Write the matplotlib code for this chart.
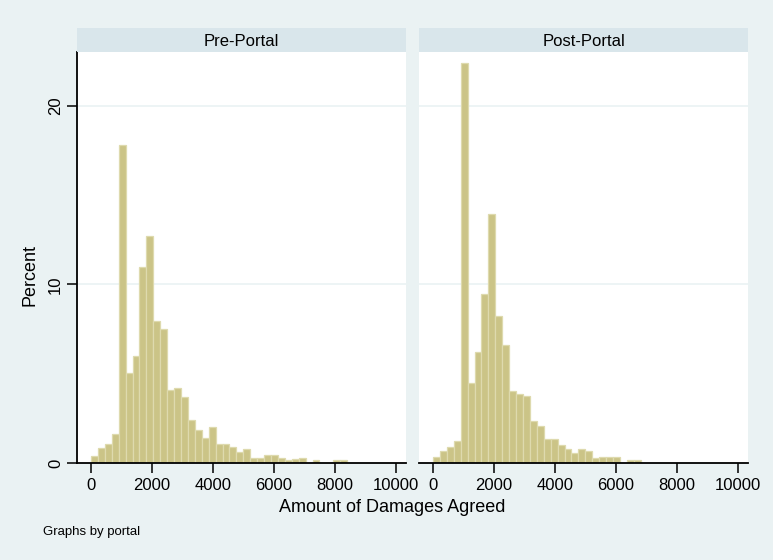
import numpy as np
import matplotlib
matplotlib.use("Agg")
import matplotlib.pyplot as plt

plt.rcParams['font.family'] = ['Liberation Sans', 'DejaVu Sans']

# histogram bins shared by both panels (37 bins over 0..8400)
bin_start = 0
bin_width = 8400 / 37

# percent per bin, pre-portal
pre_portal = [0.38, 0.86, 1.09, 1.63, 17.77, 5.03, 5.98, 10.96, 12.70, 7.94,
              7.49, 4.07, 4.17, 3.68, 2.42, 1.86, 1.41, 2.03, 1.07, 1.07,
              0.92, 0.60, 0.77, 0.28, 0.28, 0.45, 0.45, 0.28, 0.15, 0.23,
              0.28, 0.0, 0.15, 0.0, 0.0, 0.15, 0.15]

# percent per bin, post-portal
post_portal = [0.33, 0.65, 0.91, 1.21, 22.4, 4.50, 6.21, 9.48, 13.94, 8.25,
               6.58, 4.01, 3.85, 3.75, 2.36, 2.06, 1.36, 1.36, 1.02, 0.80,
               0.54, 0.80, 0.65, 0.26, 0.33, 0.33, 0.33, 0.0, 0.19, 0.19]

panels = ["Pre-Portal", "Post-Portal"]
xticks = [0, 2000, 4000, 6000, 8000, 10000]
yticks = [0, 10, 20]

bg = '#EAF2F3'
strip = '#D9E6EB'
bar_face = '#CBC487'
bar_edge = '#DEDAAE'

fig = plt.figure(figsize=(7.73, 5.6), dpi=100, facecolor=bg)

lefts = [77 / 773, 419 / 773]
w = 329 / 773
bottom = 97 / 560
h = 411 / 560

for i, (name, vals) in enumerate(zip(panels, [pre_portal, post_portal])):
    ax = fig.add_axes([lefts[i], bottom, w, h])
    ax.set_facecolor('white')
    edges = bin_start + bin_width * np.arange(len(vals))
    ax.bar(edges, vals, width=bin_width, align='edge', color=bar_face,
           edgecolor=bar_edge, linewidth=0.9, zorder=2)
    ax.set_xlim(-460, 10330)
    ax.set_ylim(0, 23.0)
    for y in [10, 20]:
        ax.axhline(y, color=bg, lw=1.2, zorder=1)
    ax.set_xticks(xticks)
    ax.set_xticklabels([str(t) for t in xticks], fontsize=12)
    ax.tick_params(axis='x', length=7, width=1.1, pad=4, color='black')
    for s in ['top', 'right']:
        ax.spines[s].set_visible(False)
    ax.spines['bottom'].set_linewidth(1.3)
    if i == 0:
        ax.set_yticks(yticks)
        ax.set_yticklabels([str(t) for t in yticks], fontsize=12,
                           rotation=90, va='center')
        ax.tick_params(axis='y', length=7, width=1.1, pad=3)
        ax.spines['left'].set_linewidth(1.3)
    else:
        ax.set_yticks([])
        ax.spines['left'].set_visible(False)

    # panel header strip
    sax = fig.add_axes([lefts[i], 508 / 560, w, 24 / 560])
    sax.set_facecolor(strip)
    sax.set_xticks([])
    sax.set_yticks([])
    for s in sax.spines.values():
        s.set_visible(False)
    sax.text(0.5, 0.45, name, ha='center', va='center', fontsize=12,
             transform=sax.transAxes)

fig.text(30 / 773, 1 - 275 / 560, "Percent", rotation=90, ha='center',
         va='center', fontsize=13)
fig.text(392 / 773, 1 - 508 / 560, "Amount of Damages Agreed", ha='center',
         va='center', fontsize=13)
fig.text(43 / 773, 1 - 532 / 560, "Graphs by portal", ha='left',
         va='center', fontsize=9.5)

fig.savefig("out.png", dpi=100, facecolor=bg)
